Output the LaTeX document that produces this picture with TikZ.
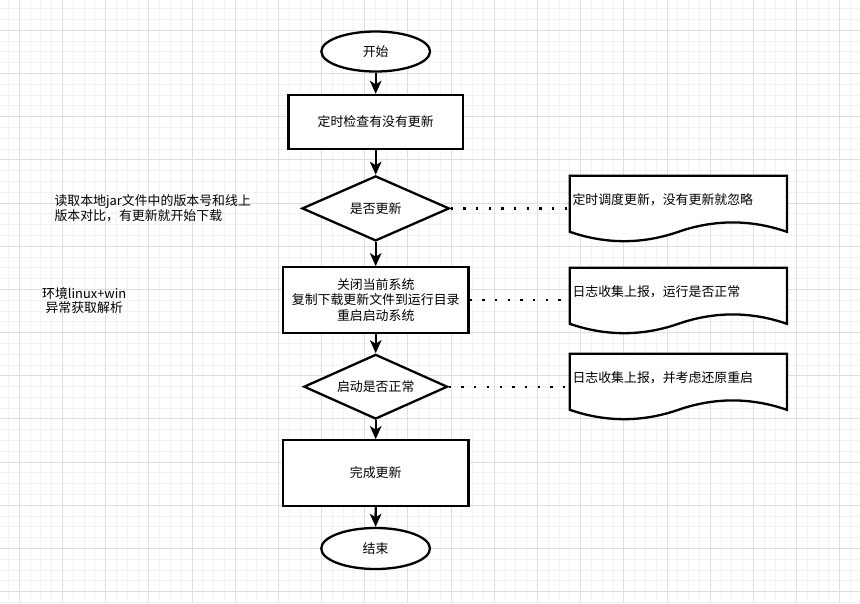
\documentclass[tikz,border=0pt]{standalone}
\usepackage{fontspec}
\setmainfont{Noto Sans CJK SC}
\usetikzlibrary{shapes.geometric,arrows.meta,calc}
\tikzset{
  shapeline/.style={draw=black,line width=2.3pt,fill=white},
  txt/.style={font=\fontsize{12.9}{15.6}\selectfont,text=black},
  term/.style={shapeline,txt,ellipse,minimum width=108.7pt,minimum height=40pt,inner sep=0pt},
  procbox/.style={shapeline,txt,rectangle,align=center,inner sep=0pt},
  decide/.style={shapeline,txt,diamond,shape aspect=2.2,inner sep=0pt},
  notebg/.style={rectangle,inner sep=0pt,minimum width=216.7pt,minimum height=65pt},
  flow/.style={draw=black,line width=2.3pt,-{Stealth[length=13pt,width=11.5pt,inset=3.5pt]}},
  dotline/.style={draw=black,line width=2.3pt,dash pattern=on 2.3pt off 10.4pt},
  freetxt/.style={txt,inner sep=0pt},
  majorgrid/.style={draw=black!13,line width=0.9pt},
  minorgrid/.style={draw=black!5,line width=0.9pt}
}
\newcommand{\mynote}[4]{%
  \node[notebg] (#1) at ({#2+108.35},{#3+32.5}) {};
  \draw[shapeline] (#1.north west) -- (#1.north east) -- ($(#1.north east)+(0,56)$)
    .. controls +(-36.1,-12.5) and +(36.1,-12.5) .. ($(#1.north)+(0,56)$)
    .. controls +(-36.1,12.5) and +(36.1,12.5) .. ($(#1.north west)+(0,56)$) -- cycle;
  \node[freetxt,anchor=west] (#1t) at ($(#1.north west)+(2.5,23.5)$) {#4};
}
\begin{document}
\begin{tikzpicture}[x=1pt,y=-1pt]
\useasboundingbox (0,0) rectangle (860,603);
\fill[white] (0,0) rectangle (860,603);
% grid
\begin{scope}
\clip (0,0) rectangle (860,603);
\foreach \i in {-2,...,80} {\draw[minorgrid] ({19.3+\i*10.795},0) -- ({19.3+\i*10.795},603);}
\foreach \i in {-3,...,54} {\draw[minorgrid] (0,{30.3+\i*10.795}) -- (860,{30.3+\i*10.795});}
\foreach \i in {0,...,19} {\draw[majorgrid] ({19.3+\i*43.18},0) -- ({19.3+\i*43.18},603);}
\foreach \i in {-1,...,13} {\draw[majorgrid] (0,{30.3+\i*43.18}) -- (860,{30.3+\i*43.18});}
\end{scope}
% main flow
\node[term] (start) at (375.7,51.5) {开始};
\node[procbox,minimum width=174.7pt,minimum height=54pt] (check) at (375.7,122) {定时检查有没有更新};
\node[decide,minimum width=147.3pt,minimum height=65pt] (d1) at (375.7,208.4) {是否更新};
\node[procbox,minimum width=185.4pt,minimum height=65.4pt] (copy) at (375.7,300) {关闭当前系统\\复制下载更新文件到运行目录\\重启启动系统};
\node[decide,minimum width=143.7pt,minimum height=64.7pt] (d2) at (375.7,386.7) {启动是否正常};
\node[procbox,minimum width=185.4pt,minimum height=65.4pt] (done) at (375.7,473) {完成更新};
\node[term,minimum height=41pt] (end) at (375.6,548.5) {结束};
\draw[flow] (start) -- (check);
\draw[flow] (check) -- (d1);
\draw[flow] (d1) -- (copy);
\draw[flow] (copy) -- (d2);
\draw[flow] (d2) -- (done);
\draw[flow] (done) -- (end);
% notes
\mynote{n1}{570}{176}{定时调度更新，没有更新就忽略}
\mynote{n2}{570}{268}{日志收集上报，运行是否正常}
\mynote{n3}{570}{354}{日志收集上报，并考虑还原重启}
\draw[dotline] (d1.east) -- (d1.east -| n1.west);
\draw[dotline] (copy.east) -- (copy.east -| n2.west);
\draw[dotline] (d2.east) -- (d2.east -| n3.west);
% side texts
\node[freetxt,align=left,anchor=west] (t1) at (54.3,208.4) {读取本地jar文件中的版本号和线上\\版本对比，有更新就开始下载};
\node[freetxt,align=center,font=\fontsize{12.9}{14.4}\selectfont] (t2) at (84.2,300.5) {环境linux+win\\异常获取解析};
\end{tikzpicture}
\end{document}
